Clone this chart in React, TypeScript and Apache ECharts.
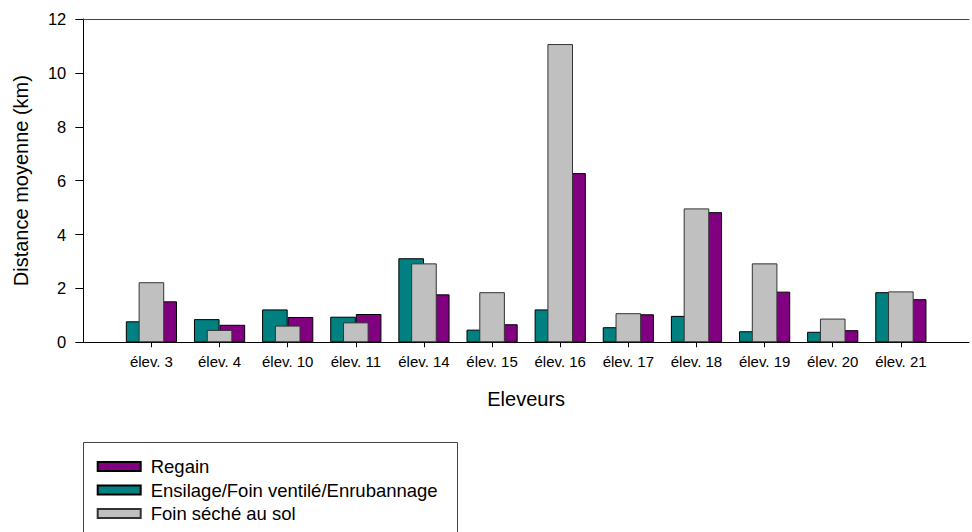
import React, { useEffect, useRef } from "react";
import * as echarts from "echarts";

const categories = ["élev. 3", "élev. 4", "élev. 10", "élev. 11", "élev. 14", "élev. 15", "élev. 16", "élev. 17", "élev. 18", "élev. 19", "élev. 20", "élev. 21"];
const ensilage = [0.78, 0.86, 1.22, 0.95, 3.12, 0.47, 1.22, 0.56, 0.98, 0.41, 0.39, 1.86];
const foinSol = [2.23, 0.46, 0.62, 0.74, 2.93, 1.86, 11.07, 1.08, 4.97, 2.93, 0.88, 1.89];
const regain = [1.52, 0.65, 0.94, 1.05, 1.78, 0.67, 6.28, 1.04, 4.83, 1.88, 0.45, 1.6];
const yTicks = { min: 0, max: 12, interval: 2 };

const FONT = "'Liberation Sans', Arial, sans-serif";

export default function App() {
  const ref = useRef<HTMLDivElement>(null);
  useEffect(() => {
    if (!ref.current) return;
    const chart = echarts.init(ref.current, null, { renderer: "svg" });
    const cats = ["", ...categories, ""];
    const pad = (arr: number[]) => ["-", ...arr, "-"];
    const barW = 25.6;
    chart.setOption({
      animation: false,
      backgroundColor: "#fff",
      textStyle: { fontFamily: FONT, color: "#000" },
      grid: { left: 83.3, top: 19, right: -9.6, bottom: 189.7 },
      xAxis: [
        {
          type: "category",
          data: cats,
          boundaryGap: false,
          position: "bottom",
          axisLine: { lineStyle: { color: "#000", width: 1 } },
          axisTick: {
            length: 5,
            lineStyle: { color: "#000" },
            interval: (i: number) => i > 0 && i < cats.length - 1,
          },
          axisLabel: { fontSize: 15, color: "#000", margin: 12, fontFamily: FONT, interval: 0 },
          name: "Eleveurs",
          nameLocation: "middle",
          nameGap: 47,
          nameTextStyle: { fontSize: 20, color: "#000", fontFamily: FONT },
          splitLine: { show: false },
        },
        {
          type: "category",
          data: cats,
          boundaryGap: false,
          position: "top",
          axisLine: { lineStyle: { color: "#444", width: 1 } },
          axisTick: { show: false },
          axisLabel: { show: false },
          splitLine: { show: false },
        },
      ],
      yAxis: {
        type: "value",
        min: yTicks.min,
        max: yTicks.max,
        interval: yTicks.interval,
        axisLine: { show: true, lineStyle: { color: "#000" } },
        axisTick: { show: true, length: 8, lineStyle: { color: "#000" } },
        axisLabel: { fontSize: 16.5, color: "#000", margin: 17, fontFamily: FONT },
        splitLine: { show: false },
        name: "Distance moyenne (km)",
        nameLocation: "middle",
        nameGap: 52,
        nameTextStyle: { fontSize: 20, color: "#000", fontFamily: FONT },
      },
      legend: {
        orient: "vertical",
        left: 91.7,
        top: 452,
        icon: "rect",
        itemWidth: 43,
        itemHeight: 9,
        itemGap: 4.5,
        data: ["Regain", "Ensilage/Foin ventilé/Enrubannage", "Foin séché au sol"],
        textStyle: { fontSize: 18.5, color: "#000", fontFamily: FONT, lineHeight: 18, padding: [0, 0, 0, 5] },
      },
      graphic: [
        {
          type: "rect",
          shape: { x: 83.5, y: 442.5, width: 374, height: 120 },
          style: { fill: "none", stroke: "#444", lineWidth: 1 },
        },
      ],
      series: [
        {
          name: "Ensilage/Foin ventilé/Enrubannage",
          type: "bar",
          xAxisIndex: 0,
          data: pad(ensilage),
          barWidth: barW,
          barGap: "0%",
          itemStyle: { color: "#008080", borderColor: "#000", borderWidth: 1 },
        },
        {
          name: "Regain",
          type: "bar",
          xAxisIndex: 0,
          data: pad(regain),
          barWidth: barW,
          barGap: "0%",
          itemStyle: { color: "#800080", borderColor: "#000", borderWidth: 1 },
        },
        {
          name: "Foin séché au sol",
          type: "bar",
          xAxisIndex: 1,
          data: pad(foinSol),
          barWidth: barW,
          itemStyle: { color: "#C0C0C0", borderColor: "#333", borderWidth: 1 },
        },
      ],
    });
    return () => chart.dispose();
  }, []);
  return <div ref={ref} style={{ position: "absolute", left: 0, top: 0, width: 972, height: 532 }} />;
}
